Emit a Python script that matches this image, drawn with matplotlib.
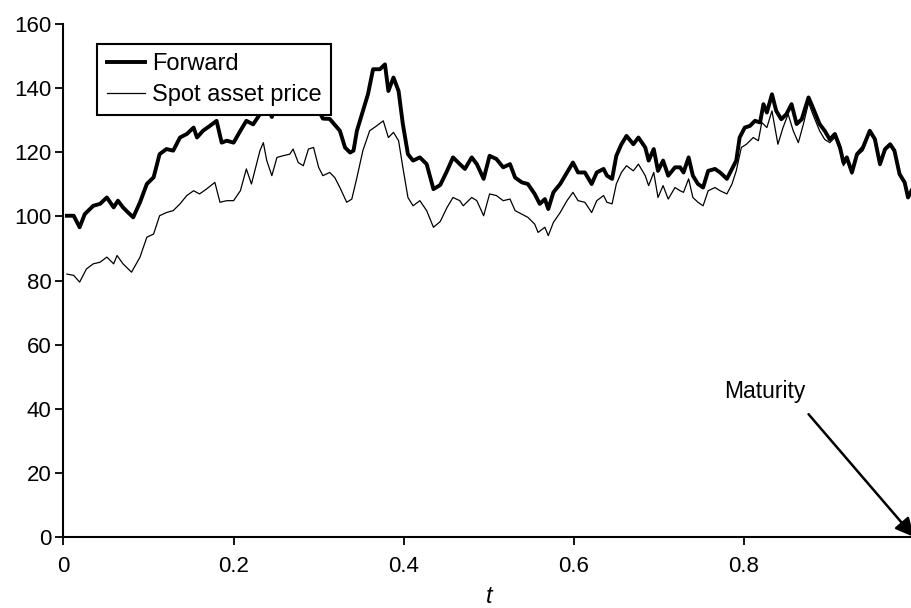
import matplotlib.pyplot as plt

plt.rcParams['font.family'] = ['Liberation Sans', 'DejaVu Sans']

# values
fwd_t = [0.004, 0.012, 0.019, 0.025, 0.035, 0.043, 0.051, 0.059, 0.064, 0.070,
         0.076, 0.082, 0.090, 0.098, 0.106, 0.113, 0.121, 0.129, 0.137, 0.145,
         0.153, 0.157, 0.164, 0.172, 0.180, 0.186, 0.192, 0.200, 0.208, 0.215,
         0.223, 0.231, 0.235, 0.245, 0.251, 0.258, 0.266, 0.270, 0.276, 0.282,
         0.288, 0.294, 0.300, 0.305, 0.313, 0.325, 0.331, 0.337, 0.341, 0.345,
         0.352, 0.358, 0.364, 0.372, 0.378, 0.382, 0.388, 0.394, 0.399, 0.405,
         0.411, 0.419, 0.427, 0.435, 0.443, 0.451, 0.458, 0.466, 0.472, 0.480,
         0.486, 0.494, 0.501, 0.509, 0.517, 0.525, 0.531, 0.539, 0.546, 0.554,
         0.560, 0.566, 0.570, 0.576, 0.584, 0.592, 0.599, 0.605, 0.613, 0.621,
         0.627, 0.635, 0.639, 0.645, 0.650, 0.656, 0.662, 0.670, 0.676, 0.684,
         0.688, 0.694, 0.699, 0.705, 0.711, 0.719, 0.725, 0.729, 0.735, 0.740,
         0.746, 0.752, 0.758, 0.766, 0.772, 0.780, 0.786, 0.791, 0.795, 0.801,
         0.807, 0.813, 0.819, 0.823, 0.827, 0.833, 0.838, 0.844, 0.850, 0.856,
         0.862, 0.868, 0.876, 0.881, 0.889, 0.895, 0.901, 0.907, 0.913, 0.917,
         0.921, 0.927, 0.933, 0.940, 0.948, 0.954, 0.960, 0.966, 0.972, 0.977,
         0.983, 0.989, 0.993, 0.997]
fwd_v = [100.2, 100.2, 96.6, 100.7, 103.3, 103.9, 105.9, 102.8, 104.9, 102.8,
         101.2, 99.7, 104.4, 110.1, 112.2, 119.4, 121.0, 120.5, 124.6, 125.7,
         127.7, 124.6, 126.7, 128.2, 129.8, 123.0, 123.6, 123.0, 126.7, 129.8,
         128.7, 131.9, 137.0, 131.0, 137.0, 137.5, 138.0, 140.0, 135.0, 134.0,
         139.0, 139.5, 133.0, 130.5, 130.4, 126.7, 121.5, 119.9, 120.5, 126.7,
         132.9, 138.1, 145.9, 145.9, 147.4, 139.1, 143.3, 139.1, 128.8, 119.4,
         117.4, 118.4, 116.3, 108.5, 109.8, 114.2, 118.4, 116.3, 114.8, 118.4,
         116.3, 111.7, 118.9, 117.9, 115.3, 116.3, 112.1, 110.6, 110.1, 107.0,
         103.9, 105.4, 102.3, 107.5, 110.1, 113.7, 116.8, 113.7, 113.7, 110.1,
         113.7, 114.8, 112.7, 111.7, 118.9, 122.5, 125.1, 122.5, 124.6, 121.5,
         117.4, 121.0, 114.2, 117.4, 112.7, 115.3, 115.3, 113.7, 118.4, 112.7,
         110.1, 109.0, 114.2, 114.8, 113.7, 111.7, 114.8, 117.4, 124.6, 127.7,
         128.2, 129.8, 129.3, 135.0, 132.4, 138.1, 132.9, 130.3, 131.9, 135.0,
         128.8, 130.3, 137.1, 134.0, 128.8, 126.7, 124.0, 125.7, 121.5, 116.8,
         118.4, 113.7, 119.4, 121.5, 126.7, 124.1, 116.3, 121.0, 122.5, 120.5,
         113.2, 110.6, 105.9, 108.0]

spot_t = [0.004, 0.012, 0.019, 0.027, 0.035, 0.043, 0.051, 0.059, 0.063, 0.070,
          0.080, 0.090, 0.098, 0.106, 0.113, 0.121, 0.129, 0.137, 0.145, 0.153,
          0.160, 0.168, 0.178, 0.184, 0.192, 0.200, 0.208, 0.215, 0.221, 0.227,
          0.231, 0.235, 0.239, 0.245, 0.251, 0.258, 0.266, 0.270, 0.276, 0.282,
          0.288, 0.294, 0.300, 0.305, 0.313, 0.319, 0.325, 0.333, 0.339, 0.345,
          0.352, 0.360, 0.368, 0.376, 0.382, 0.388, 0.394, 0.399, 0.405, 0.411,
          0.419, 0.427, 0.435, 0.443, 0.451, 0.458, 0.466, 0.470, 0.480, 0.486,
          0.494, 0.501, 0.509, 0.517, 0.525, 0.531, 0.539, 0.546, 0.554, 0.558,
          0.566, 0.570, 0.576, 0.584, 0.592, 0.599, 0.605, 0.613, 0.621, 0.627,
          0.635, 0.639, 0.645, 0.650, 0.656, 0.662, 0.670, 0.676, 0.684, 0.688,
          0.694, 0.699, 0.705, 0.711, 0.719, 0.725, 0.729, 0.735, 0.740, 0.746,
          0.752, 0.758, 0.766, 0.772, 0.780, 0.786, 0.791, 0.797, 0.803, 0.811,
          0.817, 0.821, 0.827, 0.833, 0.840, 0.846, 0.852, 0.858, 0.864, 0.870,
          0.876, 0.881, 0.889, 0.895, 0.901, 0.907, 0.913, 0.917, 0.921, 0.927,
          0.933, 0.940, 0.948, 0.954, 0.960, 0.966, 0.972, 0.977, 0.983, 0.989,
          0.993, 0.997]
spot_v = [82.0, 81.6, 79.5, 83.6, 85.2, 85.7, 87.3, 85.2, 87.8, 85.2,
          82.6, 87.3, 93.5, 94.5, 100.2, 101.2, 101.8, 103.9, 106.5, 108.0,
          107.0, 108.5, 110.6, 104.4, 104.9, 104.9, 108.0, 114.8, 110.1, 116.3,
          120.5, 123.0, 117.4, 112.7, 118.4, 118.9, 119.4, 121.0, 116.8, 115.8,
          121.0, 121.5, 115.3, 112.7, 113.7, 112.1, 109.0, 104.4, 105.4, 112.1,
          120.5, 126.7, 128.2, 129.8, 124.6, 126.2, 123.6, 115.3, 105.9, 103.3,
          104.9, 101.8, 96.6, 98.4, 102.8, 105.9, 104.9, 103.3, 105.9, 104.9,
          100.2, 107.0, 106.5, 104.9, 105.4, 101.8, 100.7, 99.7, 97.6, 95.0,
          96.6, 94.0, 98.1, 101.2, 104.9, 107.5, 104.9, 104.4, 101.2, 104.9,
          106.5, 104.4, 103.9, 110.1, 113.7, 115.8, 114.2, 116.3, 112.7, 109.6,
          113.7, 105.9, 109.6, 105.4, 109.0, 108.0, 107.5, 111.7, 105.9, 104.4,
          103.3, 108.0, 109.0, 108.0, 107.0, 110.1, 114.2, 121.5, 122.5, 124.6,
          123.6, 129.3, 127.7, 132.9, 122.5, 127.7, 131.9, 126.7, 123.0, 128.8,
          135.5, 131.9, 126.7, 124.0, 123.0, 124.6, 120.5, 115.8, 117.4, 113.2,
          118.9, 120.5, 126.2, 123.6, 115.8, 120.5, 122.0, 119.9, 112.7, 110.1,
          105.7, 107.5]

x_ticks = [0, 0.2, 0.4, 0.6, 0.8]
x_labels = ['0', '0.2', '0.4', '0.6', '0.8']
y_ticks = [0, 20, 40, 60, 80, 100, 120, 140, 160]

fig = plt.figure(figsize=(9.12, 6.08), dpi=100)
ax = fig.add_axes([0.0696, 0.1168, 0.9326, 0.8437])

ax.plot(fwd_t, fwd_v, color='black', lw=2.8, label='Forward')
ax.plot(spot_t, spot_v, color='black', lw=0.9, label='Spot asset price')

ax.set_xlim(0, 1)
ax.set_ylim(0, 160)
ax.set_xticks(x_ticks)
ax.set_xticklabels(x_labels)
ax.set_yticks(y_ticks)

for s in ['top', 'right']:
    ax.spines[s].set_visible(False)
for s in ['left', 'bottom']:
    ax.spines[s].set_linewidth(1.5)
ax.tick_params(axis='both', direction='out', length=5.5, width=1.3, labelsize=16)
ax.tick_params(axis='x', pad=8)
ax.tick_params(axis='y', pad=3)

ax.set_xlabel('t', fontsize=17, style='italic', labelpad=6)

leg = ax.legend(loc='upper left', bbox_to_anchor=(0.0398, 0.962), borderaxespad=0,
                fontsize=17, fancybox=False, edgecolor='black', framealpha=1,
                handlelength=1.6, handletextpad=0.3, labelspacing=0.38, borderpad=0.4)
leg.get_frame().set_linewidth(1.5)

# maturity label and arrow down to the end of the time axis
ax.text(0.825, 45.4, 'Maturity', fontsize=16.5, ha='center', va='center')
ax.annotate('', xy=(1.0, 0), xytext=(0.876, 38.3), annotation_clip=False,
            arrowprops=dict(arrowstyle='-|>', color='black', lw=1.8,
                            mutation_scale=28, shrinkA=0, shrinkB=0))

fig.savefig('out.png', dpi=100)
